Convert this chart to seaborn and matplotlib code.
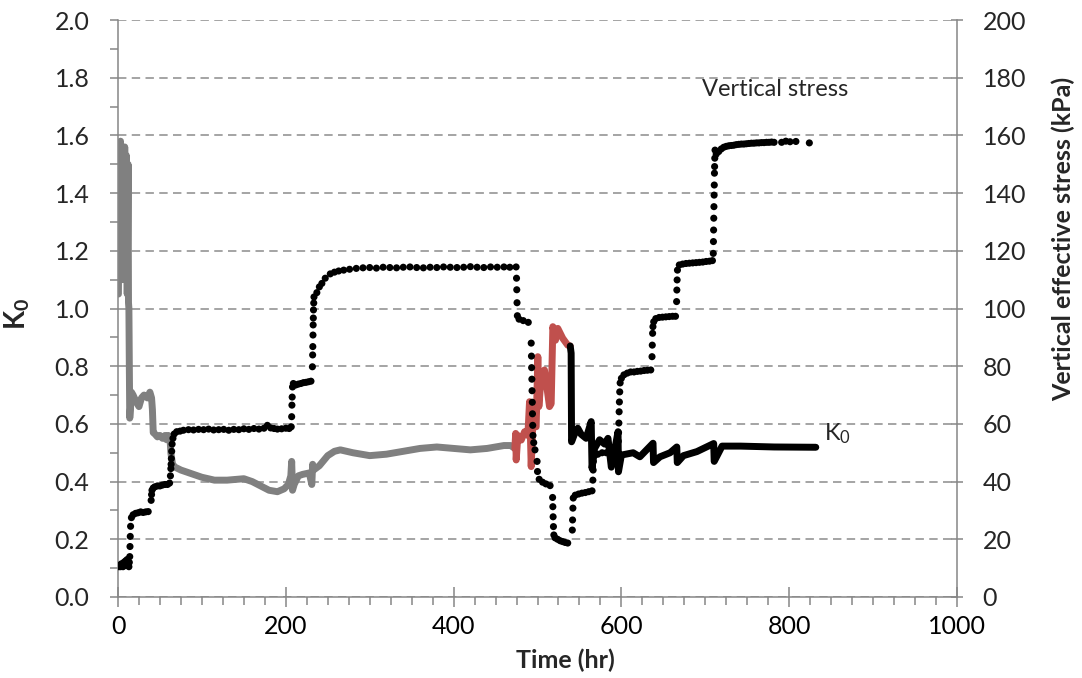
import numpy as np
import pandas as pd
import matplotlib
matplotlib.use('Agg')
import matplotlib.pyplot as plt
import seaborn as sns
from matplotlib.ticker import MultipleLocator, FormatStrFormatter

# ---------------- data ----------------
# K0 - first stage (grey)
k0_grey_t = [0.5, 1.2, 2, 3, 3.8, 4.5, 5.5, 6.5, 7.2, 8, 9, 10, 11, 12, 12.5, 13, 13.5, 14,
             15, 16, 18, 21, 25, 28, 31, 35, 38, 40, 41, 42, 44, 47, 50, 53, 56, 58, 60, 62,
             63, 65, 68, 75, 85, 100, 115, 130, 150, 160, 170, 180, 190, 198, 203, 206, 207,
             208, 210, 215, 220, 228, 231, 232, 233, 240, 250, 258, 265, 280, 300, 320, 340,
             360, 380, 400, 420, 440, 460, 468, 473]
k0_grey_v = [1.05, 1.40, 1.15, 1.58, 1.20, 1.55, 1.10, 1.50, 1.15, 1.56, 1.12, 1.53, 1.05, 1.50,
             1.02, 1.00, 0.80, 0.62, 0.66, 0.71, 0.70, 0.68, 0.66, 0.69, 0.70, 0.69, 0.71, 0.69,
             0.65, 0.57, 0.565, 0.555, 0.56, 0.55, 0.56, 0.545, 0.56, 0.55, 0.50, 0.46, 0.45,
             0.44, 0.43, 0.415, 0.405, 0.405, 0.41, 0.40, 0.385, 0.37, 0.365, 0.375, 0.39, 0.42,
             0.47, 0.37, 0.39, 0.42, 0.425, 0.43, 0.39, 0.46, 0.44, 0.455, 0.49, 0.505, 0.51,
             0.50, 0.49, 0.495, 0.505, 0.515, 0.52, 0.515, 0.51, 0.515, 0.525, 0.525, 0.515]

# K0 - second stage (red)
k0_red_t = [473, 474, 474.6, 476.6, 480.6, 484.6, 488.5, 490.5, 492.5, 494.4, 498.4, 500.4,
            501.6, 504.4, 508.3, 510.3, 514.3, 516.3, 518.3, 521.4, 524.2, 530, 536, 539]
k0_red_v = [0.515, 0.567, 0.475, 0.56, 0.544, 0.573, 0.56, 0.677, 0.452, 0.60, 0.59, 0.833,
            0.66, 0.764, 0.787, 0.746, 0.66, 0.67, 0.937, 0.89, 0.931, 0.897, 0.873, 0.87]

# K0 - third stage (black)
k0_blk_t = [539, 540.1, 540.6, 544.4, 548, 552, 558, 564, 565, 568, 574, 580, 584, 588, 592,
            596, 596.5, 600, 614, 622, 637.7, 638.3, 646, 658, 666, 666.6, 674, 690, 710,
            710.6, 720, 742, 782, 831.7]
k0_blk_v = [0.87, 0.845, 0.538, 0.567, 0.585, 0.564, 0.55, 0.608, 0.446, 0.515, 0.545, 0.53,
            0.55, 0.45, 0.51, 0.573, 0.434, 0.492, 0.50, 0.486, 0.533, 0.466, 0.486, 0.50,
            0.52, 0.466, 0.49, 0.504, 0.532, 0.47, 0.523, 0.523, 0.52, 0.519]

# Vertical effective stress (kPa)
stress_t = [1, 2, 3, 4, 5, 6, 7, 8, 9, 10, 11, 12, 13, 13.5, 14, 14.3, 14.6, 15, 16,
            18, 21, 24, 27, 30, 33, 36,
            39.5, 40, 40.5, 42, 44, 47, 50, 53, 56, 59, 61.5,
            62.5, 63, 63.3, 63.6, 64, 64.5, 65.5, 67, 70, 74,
            78, 84, 90, 96, 102, 108, 114, 120, 126, 132, 138, 144, 150, 156, 162, 168, 174,
            178, 182, 186, 190, 195, 200, 204,
            206.5, 207, 207.3, 207.6, 208, 209,
            212, 215, 218, 221, 224, 227, 230,
            231.7, 232, 232.2, 232.4, 232.6, 232.8, 233, 233.3, 233.6, 237, 240, 243, 247, 253,
            258, 263, 269, 276, 284,
            292, 300, 308, 316, 324, 332, 340, 348, 356, 364, 372, 380, 388, 396, 404, 412,
            420, 428, 436, 444, 452, 460, 467, 474.5,
            475, 475.3, 475.6, 476, 478, 483, 489,
            492.5, 492.8, 493, 493.3, 493.5, 493.8, 494, 494.3, 494.6, 495.5, 497, 499.5, 500,
            502, 506, 510, 515,
            518, 518.3, 518.6, 519, 519.5, 521, 524, 527, 530, 533, 536,
            541.5, 541.8, 542.2, 542.6, 545, 549, 553, 557, 561, 565,
            566, 566.3, 566.6, 568, 572, 577, 582, 587, 592, 595.5,
            596.3, 596.6, 597, 597.3, 597.6, 598, 598.5, 600, 603, 607, 611, 615, 619, 623,
            627, 631, 635,
            636.5, 636.8, 637.2, 637.6, 638.5, 641, 645, 649, 653, 657, 661, 664.5,
            665.8, 666.1, 666.4, 666.8, 669, 673, 677, 681, 685, 689, 693, 697, 701, 705, 708.5,
            709.5, 709.7, 709.9, 710.1, 710.3, 710.5, 710.7, 710.9, 711.1, 711.3, 711.6, 713,
            716, 719, 722, 725, 728, 731, 734, 737, 740, 743, 746, 749, 752, 755, 758, 761,
            764, 767, 770, 773, 776, 779, 782, 791, 796, 801, 808, 824]
stress_v = [10.5, 11, 10.5, 11.5, 11, 10.5, 12, 11, 12.5, 11.5, 13, 11, 10.5, 12, 14, 17.5, 21,
            24.5, 27.5,
            28.5, 29, 29.2, 29.5, 29.3, 29.5, 29.6,
            33.5, 35.5, 37, 37.8, 38.2, 38.5, 38.5, 38.8, 39, 39, 39.5,
            42, 44.5, 46, 48, 50.5, 53, 55, 56.5, 57.3, 57.5,
            57.8, 58, 57.9, 58.1, 58, 58.2, 57.9, 58, 58.1, 57.8, 58.1, 58, 58.3, 58.1, 58.4,
            58.2, 58.5, 59.5, 58.6, 58.4, 58.2, 58.3, 58.5, 58.4,
            59, 62.5, 66.5, 69.3, 72.8, 74,
            73.5, 73.8, 74, 74.3, 74.4, 74.6, 74.8,
            79.8, 83.9, 86.8, 90.8, 94.3, 96.7, 99.5, 101.9, 104, 105.5, 107.5, 108.7, 110.5,
            112, 112.6, 113, 113.3, 113.6, 113.9,
            114.1, 114.2, 114.0, 114.3, 114.2, 114.1, 114.3, 114.4, 114.2, 114.1, 114.3, 114.2,
            114.4, 114.3, 114.2, 114.3, 114.5, 114.3, 114.2, 114.4, 114.3, 114.4, 114.3, 114.4,
            110.5, 106.5, 102, 97.5, 96.3, 95.8, 95.2,
            88, 83.5, 79.5, 75.5, 71.5, 67.5, 63.5, 59.5, 56, 53.5, 51, 47, 43.5,
            40.8, 39.8, 39.2, 38.6,
            34.5, 31.3, 27.8, 24.4, 21.5, 20.5, 20, 19.5, 19.2, 18.9, 18.7,
            23.2, 26.7, 30.8, 34.3, 35.3, 35.7, 36, 36.2, 36.5, 36.8,
            40.5, 44, 47, 49, 49.5, 50, 50, 50.2, 50.4, 50.8,
            54, 57, 60.3, 64.2, 67.6, 71.1, 74.2, 75.8, 77, 77.6, 78, 78, 78.2, 78.3,
            78.5, 78.6, 78.7,
            83.3, 87.3, 91.4, 93.7, 95.4, 96.5, 96.9, 97, 97.1, 97.2, 97.3, 97.3,
            102.4, 106.4, 109.9, 113.3, 115.1, 115.4, 115.6, 115.7, 115.8, 115.9, 116, 116.1,
            116.3, 116.4, 116.6,
            119.1, 123.2, 127.2, 131.3, 135.3, 139.3, 142.8, 146.9, 149.2, 152.1, 154.9, 153.5,
            154.4, 155.3, 155.9, 156.2, 156.4, 156.5, 156.6, 156.8, 156.9, 157, 157, 157.1,
            157.2, 157.3, 157.3, 157.4, 157.4, 157.5, 157.5, 157.6, 157.6, 157.7, 157.6, 157.6,
            158, 157.8, 157.9, 157.4]

x_ticks = [0, 200, 400, 600, 800, 1000]
k0_ticks = [0.0, 0.2, 0.4, 0.6, 0.8, 1.0, 1.2, 1.4, 1.6, 1.8, 2.0]
stress_ticks = [0, 20, 40, 60, 80, 100, 120, 140, 160, 180, 200]

# ---------------- style ----------------
sns.set_style('white')
plt.rcParams['font.family'] = ['Lato', 'DejaVu Sans']
plt.rcParams['mathtext.fontset'] = 'custom'
plt.rcParams['mathtext.rm'] = 'Lato'
plt.rcParams['mathtext.it'] = 'Lato:italic'
plt.rcParams['mathtext.bf'] = 'Lato:bold'

AX_GREY = '#868686'
GRID_GREY = '#8c8c8c'

fig = plt.figure(figsize=(10.82, 6.78), dpi=100)
ax = fig.add_axes([118 / 1082, 81 / 678, 839 / 1082, 577 / 678])

line_kw = dict(estimator=None, sort=False, linewidth=5,
               solid_joinstyle='round', solid_capstyle='round', legend=False)
sns.lineplot(x=k0_grey_t, y=k0_grey_v, ax=ax, color='#808080', **line_kw)
sns.lineplot(x=k0_red_t, y=k0_red_v, ax=ax, color='#C0504D', **line_kw)
sns.lineplot(x=k0_blk_t, y=k0_blk_v, ax=ax, color='#000000', **line_kw)

ax.set_xlim(0, 1000)
ax.set_ylim(0, 2.0)
ax.set_xticks(x_ticks)
ax.set_yticks(k0_ticks)
ax.xaxis.set_minor_locator(MultipleLocator(25))
ax.yaxis.set_minor_locator(MultipleLocator(0.1))
ax.yaxis.set_major_formatter(FormatStrFormatter('%.1f'))
ax.yaxis.grid(True, which='major', linestyle=(0, (5.5, 3.5)), color=GRID_GREY, linewidth=1.1)
ax.xaxis.grid(False)
ax.set_axisbelow(True)

for s in ['top', 'right']:
    ax.spines[s].set_visible(False)
for s in ['left', 'bottom']:
    ax.spines[s].set_color(AX_GREY)
    ax.spines[s].set_linewidth(1.1)

ax.tick_params(axis='x', which='major', direction='inout', length=14, width=1.1,
               color=AX_GREY, labelsize=18, pad=6, labelcolor='black', bottom=True)
ax.tick_params(axis='x', which='minor', direction='out', length=5.5, width=1.1,
               color=AX_GREY, bottom=True)
ax.tick_params(axis='y', which='both', direction='out', length=5.5, width=1.1,
               color=AX_GREY, labelsize=18, pad=15, left=True, right=False)

ax.set_xlabel('Time (hr)', fontsize=18, fontweight='bold')
ax.xaxis.set_label_coords(0.533, -0.09)
ax.set_ylabel(r'$\mathbf{K_0}$', fontsize=20)
ax.yaxis.set_label_coords(-0.102, 0.49)

# secondary axis: vertical effective stress
ax2 = ax.twinx()
sns.scatterplot(x=stress_t, y=stress_v, ax=ax2, color='black', s=26, linewidth=0,
                edgecolor='none', legend=False, zorder=5)
ax2.set_ylim(0, 200)
ax2.set_yticks(stress_ticks)
ax2.yaxis.set_major_formatter(FormatStrFormatter('%d'))
for s in ['top', 'left', 'bottom']:
    ax2.spines[s].set_visible(False)
ax2.spines['right'].set_color(AX_GREY)
ax2.spines['right'].set_linewidth(1.1)
ax2.tick_params(axis='y', which='major', direction='inout', length=9, width=1.1,
                color=AX_GREY, labelsize=18, pad=14)
ax2.set_ylabel('Vertical effective stress (kPa)', fontsize=18, fontweight='bold')
ax2.yaxis.set_label_coords(1.113, 0.62)

ax2.text(696, 176, 'Vertical stress', fontsize=17, va='center', ha='left')
ax2.text(842, 56.5, r'K$_0$', fontsize=17, va='center', ha='left')

fig.savefig('out.png', dpi=100)
